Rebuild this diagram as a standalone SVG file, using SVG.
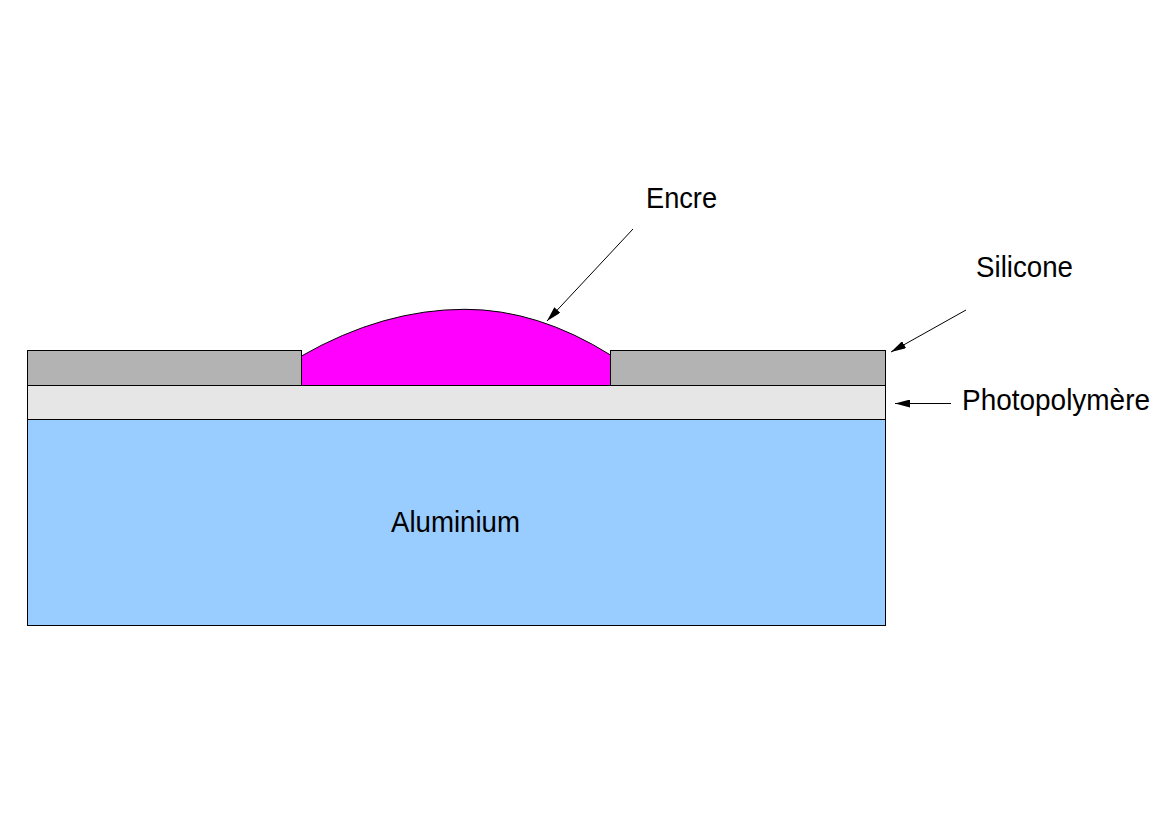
<svg xmlns="http://www.w3.org/2000/svg" width="1175" height="816" viewBox="0 0 1175 816">
  <style>
    .layer { stroke: #000; stroke-width: 1; }
    .label { font-family: "Liberation Sans", Arial, sans-serif; font-size: 30px; fill: #000; }
    .conn { stroke: #000; stroke-width: 1; fill: none; marker-end: url(#ah); }
  </style>
  <defs>
    <marker id="ah" viewBox="0 0 15 8" markerWidth="15" markerHeight="8" refX="15" refY="4" orient="auto" markerUnits="userSpaceOnUse">
      <path d="M0,0 L15,4 L0,8 z" fill="#000"/>
    </marker>
  </defs>
  <rect width="1175" height="816" fill="#fff"/>
  <g id="aluminium">
    <rect class="layer" x="27.5" y="419.5" width="858" height="206" fill="#99ccff"/>
    <text class="label" x="391" y="532" textLength="129" lengthAdjust="spacingAndGlyphs">Aluminium</text>
  </g>
  <g id="photopolymere">
    <rect class="layer" x="27.5" y="385.5" width="858" height="34" fill="#e6e6e6"/>
  </g>
  <g id="silicone">
    <rect class="layer" x="27.5" y="350.5" width="274" height="35" fill="#b3b3b3"/>
    <rect class="layer" x="610.5" y="350.5" width="275" height="35" fill="#b3b3b3"/>
  </g>
  <g id="encre">
    <path class="layer" d="M301.5,385.5 L301.5,356 Q383,309.3 465,309.3 Q537.5,309.3 610.5,355 L610.5,385.5 Z" fill="#ff00ff"/>
  </g>
  <g id="labels">
    <text id="label-encre" class="label" x="646" y="208" textLength="71" lengthAdjust="spacingAndGlyphs">Encre</text>
    <text id="label-silicone" class="label" x="976" y="277" textLength="97" lengthAdjust="spacingAndGlyphs">Silicone</text>
    <text id="label-photopolymere" class="label" x="962" y="410" textLength="188" lengthAdjust="spacingAndGlyphs">Photopolymère</text>
  </g>
  <g id="connectors">
    <line class="conn" x1="633" y1="229" x2="547" y2="321"/>
    <line class="conn" x1="966" y1="310" x2="891" y2="352"/>
    <line class="conn" x1="951" y1="403.5" x2="895" y2="403.5"/>
  </g>
</svg>
